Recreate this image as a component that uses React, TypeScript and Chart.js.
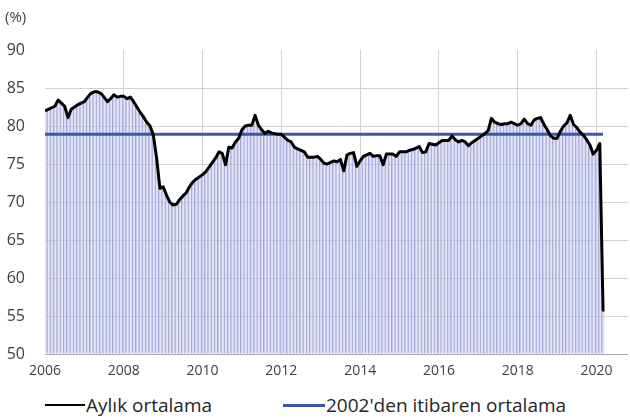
import React, { useEffect, useRef } from "react";
import { Chart, registerables } from "chart.js";

Chart.register(...registerables);

// ---- data ----
const START_YEAR = 2006;
// monthly values, Jan 2006 .. Mar 2020
const monthlyAverage: number[] = [
  // 2006
  82.0, 82.2, 82.4, 82.6, 83.4, 83.0, 82.6, 81.1, 82.2, 82.5, 82.8, 83.0,
  // 2007
  83.2, 83.8, 84.3, 84.5, 84.5, 84.3, 83.8, 83.2, 83.6, 84.1, 83.8, 83.9,
  // 2008
  83.9, 83.6, 83.8, 83.2, 82.5, 81.8, 81.2, 80.5, 80.0, 78.8, 75.8, 71.8,
  // 2009
  72.0, 70.9, 70.0, 69.6, 69.7, 70.3, 70.8, 71.2, 72.0, 72.6, 73.0, 73.3,
  // 2010
  73.6, 74.0, 74.6, 75.2, 75.8, 76.6, 76.4, 74.9, 77.2, 77.1, 77.9, 78.4,
  // 2011
  79.5, 80.0, 80.1, 80.1, 81.4, 80.1, 79.5, 79.0, 79.3, 79.1, 79.0, 78.9,
  // 2012
  78.9, 78.5, 78.1, 77.9, 77.2, 77.0, 76.8, 76.6, 75.9, 75.9, 75.9, 76.0,
  // 2013
  75.6, 75.1, 75.0, 75.2, 75.4, 75.3, 75.6, 74.1, 76.2, 76.4, 76.5, 74.7,
  // 2014
  75.4, 76.0, 76.2, 76.4, 76.0, 76.1, 76.1, 74.9, 76.3, 76.3, 76.3, 76.0,
  // 2015
  76.6, 76.6, 76.6, 76.8, 76.9, 77.1, 77.3, 76.5, 76.6, 77.7, 77.6, 77.5,
  // 2016
  77.8, 78.1, 78.1, 78.1, 78.7, 78.2, 77.9, 78.1, 77.9, 77.4, 77.8, 78.1,
  // 2017
  78.4, 78.7, 79.0, 79.4, 81.0, 80.5, 80.3, 80.2, 80.3, 80.3, 80.5, 80.3,
  // 2018
  80.1, 80.3, 80.9, 80.3, 80.1, 80.8, 81.0, 81.1, 80.2, 79.5, 78.7, 78.4,
  // 2019
  78.4, 79.3, 80.0, 80.4, 81.4, 80.2, 79.8, 79.2, 78.8, 78.2, 77.5, 76.3,
  // 2020
  76.8, 77.7, 55.6,
];
const longRunAverage = 78.9;
const seriesLabels = ["Aylık ortalama", "2002'den itibaren ortalama"];
const unitLabel = "(%)";
const yMin = 50;
const yMax = 90;
const yStep = 5;
const xTickEveryMonths = 24;
const xAxisEndMonths = 177.6;

const FONT = '"Open Sans", "Liberation Sans", sans-serif';

export default function App() {
  const ref = useRef<HTMLCanvasElement | null>(null);

  useEffect(() => {
    if (!ref.current) return;
    const points = monthlyAverage.map((v, i) => ({ x: i, y: v }));
    const last = monthlyAverage.length - 1;

    const unitPlugin = {
      id: "unitLabel",
      afterDraw(chart: any) {
        const ctx = chart.ctx;
        ctx.save();
        ctx.font = `15px ${FONT}`;
        ctx.fillStyle = "#404040";
        ctx.textBaseline = "middle";
        ctx.textAlign = "left";
        ctx.fillText(unitLabel, 5, 18);
        ctx.restore();
      },
    };

    const chart = new Chart(ref.current, {
      type: "bar",
      data: {
        datasets: [
          {
            type: "line",
            label: seriesLabels[0],
            data: points,
            borderColor: "#000000",
            borderWidth: 3,
            pointRadius: 0,
            tension: 0,
            borderJoinStyle: "round",
            order: 0,
          } as any,
          {
            type: "line",
            label: seriesLabels[1],
            data: [
              { x: 0, y: longRunAverage },
              { x: last, y: longRunAverage },
            ],
            borderColor: "#3a58a8",
            borderWidth: 3,
            pointRadius: 0,
            order: 1,
          } as any,
          {
            type: "bar",
            label: "bars",
            data: points,
            backgroundColor: "rgba(205,210,240,0.55)",
            borderColor: "rgba(125,135,200,0.7)",
            borderWidth: { left: 1, right: 0, top: 0, bottom: 0 },
            barPercentage: 1,
            categoryPercentage: 1,
            base: yMin,
            order: 2,
          } as any,
        ],
      },
      options: {
        responsive: false,
        animation: false,
        devicePixelRatio: 1,
        layout: { padding: { top: 50, right: 2, left: 0, bottom: 0 } },
        plugins: {
          legend: { display: false },
          tooltip: { enabled: false },
        },
        scales: {
          x: {
            type: "linear",
            offset: false,
            min: 0,
            max: xAxisEndMonths,
            grid: {
              offset: false,
              color: "#d2d2d2",
              drawTicks: false,
              lineWidth: (c: any) => (c.tick && c.tick.value === 0 ? 0 : 1),
            },
            border: { display: true, color: "#a6a6a6", width: 1 },
            ticks: {
              stepSize: xTickEveryMonths,
              includeBounds: false,
              autoSkip: false,
              maxRotation: 0,
              padding: 9,
              color: "#404040",
              font: { family: FONT, size: 14 },
              callback: (v: any) => String(START_YEAR + Number(v) / 12),
            },
            afterFit: (s: any) => {
              s.height = 31;
            },
          },
          y: {
            min: yMin,
            max: yMax,
            grid: {
              color: (c: any) => (c.tick && c.tick.value === yMax ? "rgba(0,0,0,0)" : "#d2d2d2"),
              drawTicks: false,
            },
            border: { display: false },
            ticks: {
              stepSize: yStep,
              padding: 20,
              color: "#404040",
              font: { family: FONT, size: 16 },
            },
            afterFit: (s: any) => {
              s.width = 45;
            },
          },
        },
      } as any,
      plugins: [unitPlugin],
    });
    return () => chart.destroy();
  }, []);

  return (
    <div
      style={{
        position: "fixed",
        left: 0,
        top: 0,
        width: 630,
        height: 419,
        background: "#ffffff",
        overflow: "hidden",
      }}
    >
      <canvas ref={ref} width={630} height={385} style={{ display: "block" }} />
      <div
        style={{
          position: "absolute",
          top: 392,
          left: 0,
          width: 630,
          height: 26,
          fontFamily: FONT,
          fontSize: 19,
          color: "#262626",
        }}
      >
        <div style={{ position: "absolute", left: 45, top: 0, display: "flex", alignItems: "center", height: 26 }}>
          <span style={{ display: "inline-block", width: 40, height: 2, background: "#000000" }} />
          <span style={{ marginLeft: 1, whiteSpace: "nowrap" }}>{seriesLabels[0]}</span>
        </div>
        <div style={{ position: "absolute", left: 283, top: 0, display: "flex", alignItems: "center", height: 26 }}>
          <span style={{ display: "inline-block", width: 42, height: 3, background: "#3a58a8" }} />
          <span style={{ marginLeft: 1, whiteSpace: "nowrap" }}>{seriesLabels[1]}</span>
        </div>
      </div>
    </div>
  );
}
